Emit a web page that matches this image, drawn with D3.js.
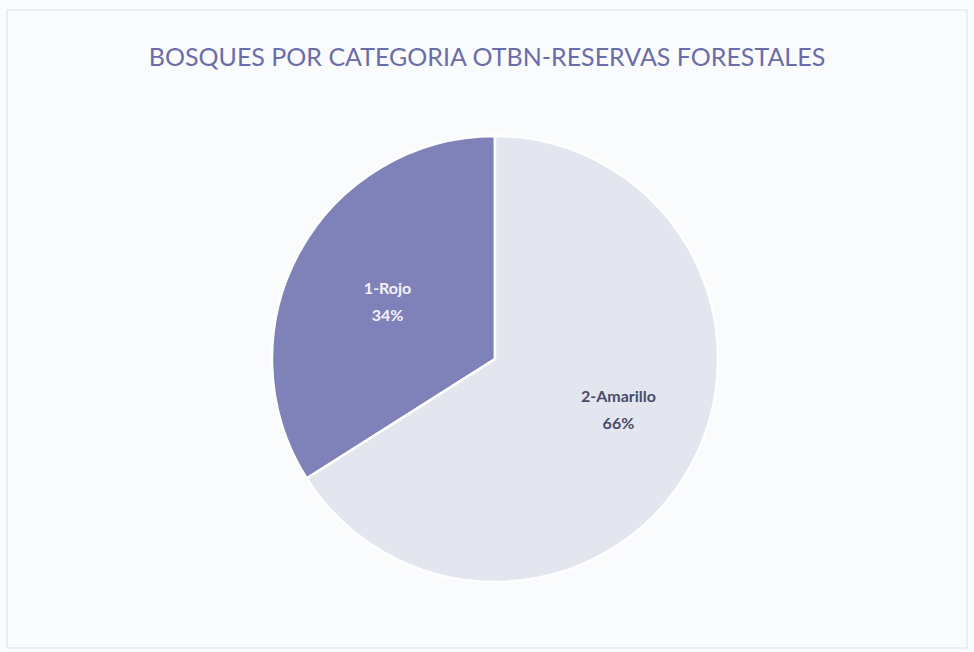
<!DOCTYPE html>
<meta charset="utf-8">
<script src="https://d3js.org/d3.v7.min.js"></script>
<style>
  body { margin: 0; background: #fbfcfe; }
  text { font-family: Lato, "Open Sans", sans-serif; }
</style>
<div id="chart"></div>
<script>

// data
var categories = ["1-Rojo", "2-Amarillo"];
var values = [34, 66];
var title = "BOSQUES POR CATEGORIA OTBN-RESERVAS FORESTALES";

var width = 974, height = 652;
var cx = 495, cy = 359, radius = 223;
// small label nudges (excel "best fit" placement)
var labelNudge = [[2, -2], [14, -14]];

var svg = d3.select("#chart")
  .append("svg")
    .attr("width", width)
    .attr("height", height);

// faint frame of the chart area
svg.append("rect")
  .attr("x", 7).attr("y", 10)
  .attr("width", width - 14).attr("height", height - 14)
  .attr("fill", "#fafbfd")
  .attr("stroke", "#dcdfe6")
  .attr("stroke-width", 1);

svg.append("text")
  .attr("x", 487)
  .attr("y", 66)
  .attr("text-anchor", "middle")
  .style("font-size", "25px")
  .style("fill", "#6a6da9")
  .text(title);

var color = d3.scaleOrdinal()
  .domain(categories)
  .range(["#7e82b8", "#e3e6ef"]);

var total = d3.sum(values);
// first slice ends at 12 o'clock
var pie = d3.pie()
  .sort(null)
  .startAngle(-2 * Math.PI * values[0] / total)
  .endAngle(2 * Math.PI - 2 * Math.PI * values[0] / total);

var arcs = pie(values);

var arc = d3.arc().innerRadius(0).outerRadius(radius);
var labelArc = d3.arc().innerRadius(radius * 0.56).outerRadius(radius * 0.56);

var g = svg.append("g")
  .attr("transform", "translate(" + cx + "," + cy + ")");

g.selectAll("path")
  .data(arcs)
  .enter()
  .append("path")
    .attr("d", arc)
    .attr("fill", function (d, i) { return color(categories[i]); })
    .attr("stroke", "#ffffff")
    .attr("stroke-width", 2.5);

var labels = g.selectAll(".label")
  .data(arcs)
  .enter()
  .append("text")
    .attr("class", "label")
    .attr("transform", function (d, i) {
      var c = labelArc.centroid(d);
      return "translate(" + (c[0] + labelNudge[i][0]) + "," + (c[1] + labelNudge[i][1]) + ")";
    })
    .attr("text-anchor", "middle")
    .style("font-size", "16px")
    .style("font-weight", "bold")
    .style("fill", function (d, i) { return i === 0 ? "#f2f2f8" : "#484c6a"; });

labels.append("tspan")
  .attr("x", 0).attr("dy", "-0.2em")
  .text(function (d, i) { return categories[i]; });
labels.append("tspan")
  .attr("x", 0).attr("dy", "1.7em")
  .text(function (d, i) { return Math.round(d.value / total * 100) + "%"; });

</script>
